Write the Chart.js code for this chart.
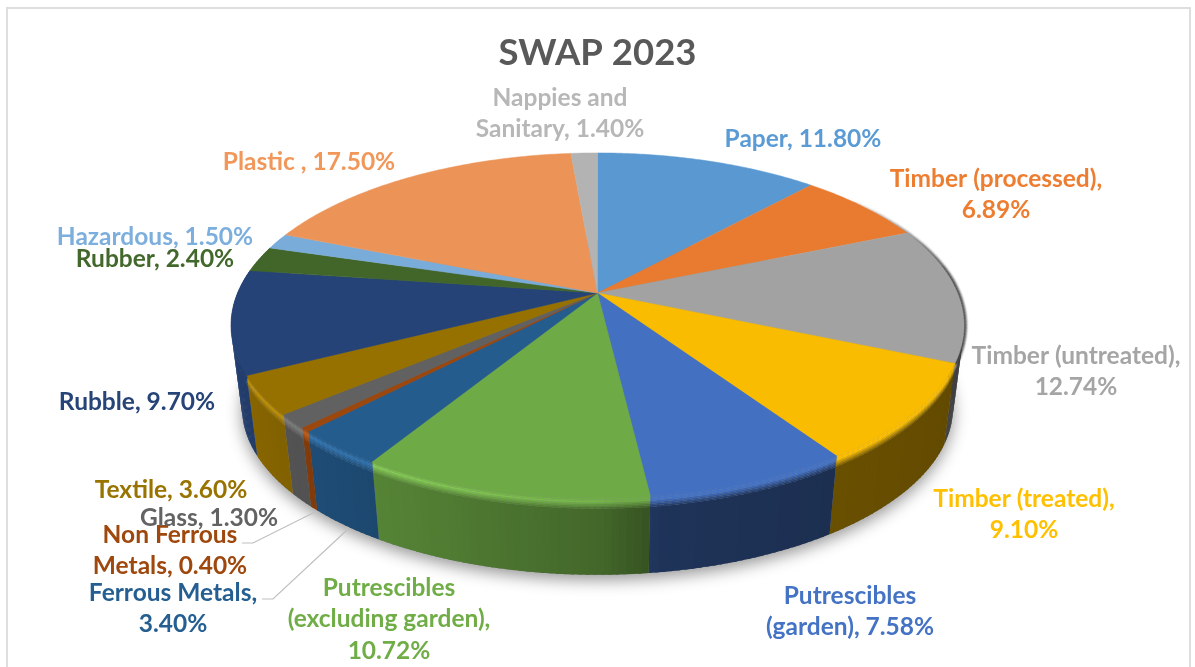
<!DOCTYPE html>
<html>
<head>
<meta charset="utf-8">
<title>SWAP 2023</title>
<script src="https://cdn.jsdelivr.net/npm/chart.js@4/dist/chart.umd.js"></script>
<style>
  html, body { margin: 0; padding: 0; background: #fff; }
  #frame { position: absolute; left: 6px; top: 7px; width: 1185px; height: 680px; border: 2px solid #dedede; box-sizing: border-box; }
  body { width: 1195px; height: 667px; overflow: hidden; position: relative; }
  canvas { position: absolute; left: 0; top: 0; }
</style>
</head>
<body>
<div id="frame"></div>
<canvas id="swapChart" width="1195" height="667"></canvas>
<script>
var categories = [
  "Paper", "Timber (processed)", "Timber (untreated)", "Timber (treated)",
  "Putrescibles (garden)", "Putrescibles (excluding garden)", "Ferrous Metals",
  "Non Ferrous Metals", "Glass", "Textile", "Rubble", "Rubber", "Hazardous",
  "Plastic ", "Nappies and Sanitary"
];
var values = [11.8, 6.89, 12.74, 9.1, 7.58, 10.72, 3.4, 0.4, 1.3, 3.6, 9.7, 2.4, 1.5, 17.5, 1.4];
var sliceColors = [
  "#5b9bd5", "#ed7d31", "#a5a5a5", "#ffc000", "#4472c4", "#70ad47", "#255e91",
  "#9e480e", "#636363", "#997300", "#264478", "#43682b", "#7cafdd", "#f1975a", "#b7b7b7"
];
// words per row of each data label, last row takes the rest
var labelWraps = [[], [2], [2], [2], [1], [1, 2], [2], [2], [], [], [], [], [], [], [2]];
// centre x and first row y of each data label
var labelX = [803, 996, 1076, 1024, 850, 389, 173, 170, 209, 171, 137, 155, 155, 309, 560];
var labelY = [139, 179, 356, 499, 596, 588, 593, 535, 518, 490, 402, 259, 237, 162, 98];
var rowHeight = 31.5;
var leaderLines = [
  [[315, 512], [253, 543], [242, 543]],
  [[347, 530], [273, 599], [262, 599]]
];

// the disc is a circle under a perspective projection
var cx = 597.5, cy = 293, radX = 360, radY = 166.4, persp = 0.188;
// the lower edge of the wall is the rim shrunk a little and moved down
var wallShrink = 0.97, wallDrop = 83;
var fontFamily = "Lato, 'Open Sans', sans-serif";

function rim(theta) {
  var u = Math.sin(theta), v = -Math.cos(theta), d = 1 - persp * v;
  return [cx + radX * u / d, cy + radY * v / d];
}

function rimLow(theta) {
  var p = rim(theta);
  return [cx + (p[0] - cx) * wallShrink, cy + (p[1] - cy) * wallShrink + wallDrop];
}

function hexRgb(hex) {
  return [1, 3, 5].map(function (i) { return parseInt(hex.substr(i, 2), 16); });
}

function mix(a, b, t) {
  return [a[0] + (b[0] - a[0]) * t, a[1] + (b[1] - a[1]) * t, a[2] + (b[2] - a[2]) * t];
}

function css(c) {
  return "rgb(" + Math.round(c[0]) + "," + Math.round(c[1]) + "," + Math.round(c[2]) + ")";
}

function scaled(c, f) {
  return [Math.min(255, c[0] * f), Math.min(255, c[1] * f), Math.min(255, c[2] * f)];
}

// wall brightness: lit from the left, nearly in shade from the middle on
function wallLight(theta) {
  var u = Math.sin(theta);
  var stops = [[-1, 0.92], [-0.65, 0.8], [-0.3, 0.7], [0, 0.6], [0.15, 0.45], [0.6, 0.41], [1, 0.38]];
  for (var i = 1; i < stops.length; i++) {
    if (u <= stops[i][0]) {
      var t = (u - stops[i - 1][0]) / (stops[i][0] - stops[i - 1][0]);
      return stops[i - 1][1] + (stops[i][1] - stops[i - 1][1]) * t;
    }
  }
  return 0.38;
}

function arcAngles(el) {
  // library angles start at -PI/2, projection starts at the top of the disc
  return [el.startAngle + Math.PI / 2, el.endAngle + Math.PI / 2];
}

function drawShadow(ctx) {
  ctx.save();
  ctx.shadowColor = "rgba(0,0,0,0.42)";
  ctx.shadowBlur = 16;
  ctx.shadowOffsetY = 5;
  ctx.fillStyle = "#888";
  ctx.beginPath();
  for (var a = 0; a <= 360; a += 2) {
    var p = rimLow(a * Math.PI / 180);
    ctx.lineTo(p[0], p[1]);
  }
  ctx.closePath();
  ctx.fill();
  ctx.restore();
}

var wallRows = [0, 0.02, 0.04, 0.06, 0.08, 0.1, 0.12, 0.14, 1];

function drawWall(ctx, el, hex) {
  var range = arcAngles(el);
  var base = hexRgb(hex);
  var step = Math.PI / 180;
  for (var a = range[0]; a < range[1]; a += step) {
    var b = Math.min(a + step, range[1]);
    var over = Math.min(b + step * 0.4, range[1]);
    var mid = (a + b) / 2;
    if (Math.cos(mid) > 0.35) continue; // back part never shows
    var light = wallLight(mid);
    var wall = scaled(base, light);
    var glow = scaled(base, 1 + Math.max(0, light - 0.55) * 0.9);
    var t1 = rim(a), t2 = rim(over), l1 = rimLow(a), l2 = rimLow(over);
    // rows run bottom up so each one overlaps the seam of the one below
    for (var r = wallRows.length - 2; r >= 0; r--) {
      var f0 = wallRows[r], f1 = wallRows[r + 1];
      var col = f0 < 0.04 ? mix(base, glow, f0 / 0.04) : mix(glow, wall, Math.min(1, (f0 - 0.04) / 0.1));
      ctx.fillStyle = css(col);
      ctx.beginPath();
      ctx.moveTo(t1[0] + (l1[0] - t1[0]) * f0, t1[1] + (l1[1] - t1[1]) * f0);
      ctx.lineTo(t2[0] + (l2[0] - t2[0]) * f0, t2[1] + (l2[1] - t2[1]) * f0);
      ctx.lineTo(t2[0] + (l2[0] - t2[0]) * f1, t2[1] + (l2[1] - t2[1]) * f1);
      ctx.lineTo(t1[0] + (l1[0] - t1[0]) * f1, t1[1] + (l1[1] - t1[1]) * f1);
      ctx.closePath();
      ctx.fill();
    }
  }
}

// dark edge where the disc turns away on the right
function drawRightEdge(ctx) {
  ctx.save();
  ctx.lineCap = "butt";
  ctx.filter = "blur(0.8px)";
  for (var deg = 52; deg < 113; deg++) {
    var a = deg * Math.PI / 180, b = (deg + 1.2) * Math.PI / 180;
    var fade = Math.min(1, (deg - 52) / 32);
    var p = rim(a), q = rim(b);
    ctx.strokeStyle = "rgba(50,50,50," + (0.25 + fade * 0.7) + ")";
    ctx.lineWidth = 1 + fade * 4;
    ctx.beginPath();
    ctx.moveTo(p[0], p[1]);
    ctx.lineTo(q[0], q[1]);
    ctx.stroke();
  }
  ctx.restore();
}

function drawTop(ctx, el, hex) {
  var range = arcAngles(el);
  var fill = css(scaled(hexRgb(hex), 0.98));
  ctx.fillStyle = fill;
  ctx.strokeStyle = fill;
  ctx.lineWidth = 0.5;
  ctx.beginPath();
  ctx.moveTo(cx, cy);
  var n = Math.max(2, Math.ceil((range[1] - range[0]) * 90));
  for (var i = 0; i <= n; i++) {
    var p = rim(range[0] + (range[1] - range[0]) * i / n);
    ctx.lineTo(p[0], p[1]);
  }
  ctx.closePath();
  ctx.fill();
  ctx.stroke();
}

function drawLabels(ctx) {
  ctx.save();
  ctx.textAlign = "center";
  ctx.textBaseline = "middle";
  ctx.font = "bold 24.5px " + fontFamily;
  leaderLines.forEach(function (line) {
    ctx.strokeStyle = "#bfbfbf";
    ctx.lineWidth = 1.2;
    ctx.beginPath();
    line.forEach(function (p) { ctx.lineTo(p[0], p[1]); });
    ctx.stroke();
  });
  categories.forEach(function (name, i) {
    var words = (name + ", " + values[i].toFixed(2) + "%").split(" ");
    var rows = [];
    labelWraps[i].forEach(function (count) { rows.push(words.splice(0, count).join(" ")); });
    rows.push(words.join(" "));
    ctx.fillStyle = sliceColors[i];
    rows.forEach(function (row, r) {
      ctx.fillText(row, labelX[i], labelY[i] + r * rowHeight);
    });
  });
  ctx.restore();
}

var perspectivePie = {
  id: "perspectivePie",
  beforeDatasetDraw: function (chart) {
    var ctx = chart.ctx;
    var arcs = chart.getDatasetMeta(0).data;
    drawShadow(ctx);
    arcs.forEach(function (el, i) { drawWall(ctx, el, sliceColors[i]); });
    drawRightEdge(ctx);
    arcs.forEach(function (el, i) { drawTop(ctx, el, sliceColors[i]); });
    return false;
  },
  afterDraw: function (chart) {
    drawLabels(chart.ctx);
  }
};

new Chart(document.getElementById("swapChart").getContext("2d"), {
  type: "pie",
  data: {
    labels: categories,
    datasets: [{ data: values, backgroundColor: sliceColors, borderWidth: 0 }]
  },
  options: {
    responsive: false,
    animation: false,
    plugins: {
      legend: { display: false },
      tooltip: { enabled: false },
      title: {
        display: true,
        text: "SWAP 2023",
        color: "#595959",
        font: { family: fontFamily, size: 36.5, weight: "bold" },
        padding: { top: 31, bottom: 0 }
      }
    }
  },
  plugins: [perspectivePie]
});
</script>
</body>
</html>
